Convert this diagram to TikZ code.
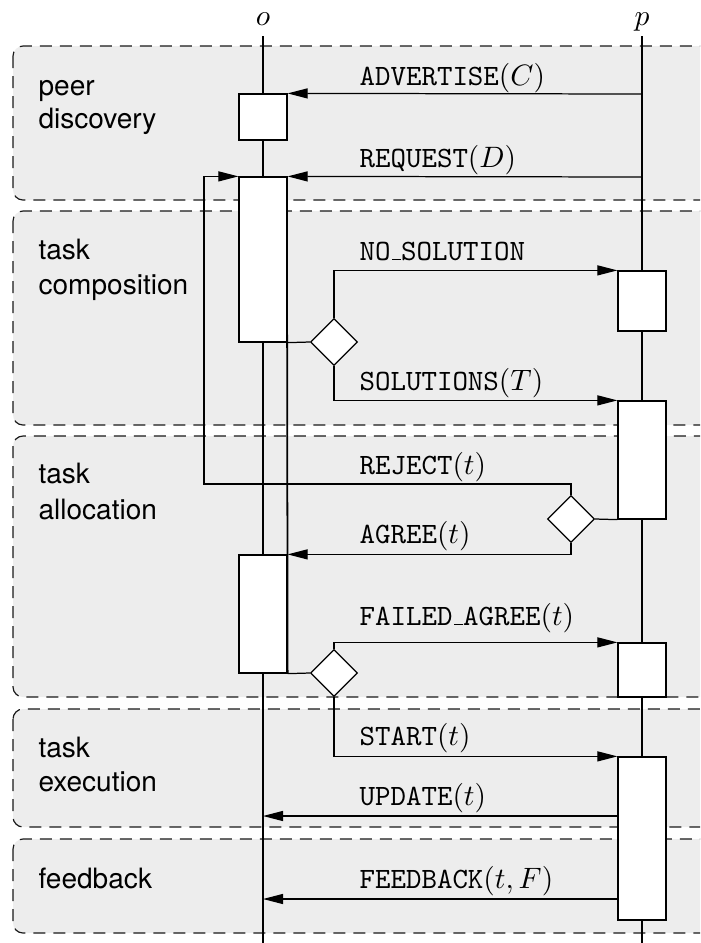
\documentclass[tikz,border=0pt]{standalone}
\usepackage{fontspec}
\newfontfamily\labfont{TeX Gyre Heros}
\usetikzlibrary{arrows.meta,shapes.geometric,fit}
\definecolor{bandgray}{gray}{0.93}
\newcommand\usc{\kern.06em\vbox{\hrule width .3em}}
\begin{document}
\begin{tikzpicture}[x=0.339pt,y=-0.339pt,
  band/.style={draw=black!90, fill=bandgray, dash pattern=on 4.07pt off 2.71pt, line width=0.4pt, rounded corners=3.4pt},
  life/.style={line width=0.42pt},
  actbox/.style={draw, fill=white, line width=0.42pt, inner sep=0pt},
  dec/.style={diamond, draw, fill=white, inner sep=0pt, minimum width=15.9pt, minimum height=15.9pt, line width=0.42pt},
  msg/.style={line width=0.42pt, -{Triangle[length=6.8pt,width=3.4pt]}},
  lbl/.style={inner sep=0pt, anchor=base west, font=\ttfamily},
  grp/.style={inner sep=0pt, anchor=base west, font=\labfont\fontsize{9.5}{11.5}\selectfont},
  head/.style={inner sep=0pt, anchor=base}]
\useasboundingbox (0,0) rectangle (700,943);
\clip (0,0) rectangle (700,943);
% bands
\draw[band] (13,46) rectangle (730,200);
\draw[band] (13,211) rectangle (730,425);
\draw[band] (13,436) rectangle (730,697);
\draw[band] (13,709) rectangle (730,827);
\draw[band] (13,839) rectangle (730,933);
% group labels
\node[grp] (g1a) at (38,95) {peer};
\node[grp] (g1b) at (38,128) {discovery};
\node[grp] (g2a) at (38,259) {task};
\node[grp] (g2b) at (38,294) {composition};
\node[grp] (g3a) at (38,483) {task};
\node[grp] (g3b) at (38,519) {allocation};
\node[grp] (g4a) at (38,757) {task};
\node[grp] (g4b) at (38,791) {execution};
\node[grp] (g5a) at (38,888) {feedback};
% lifelines
\node[head] (ho) at (263,25) {$o$};
\node[head] (hp) at (642,25) {$p$};
\coordinate (ot) at (263,36);
\coordinate (ob) at (263,950);
\coordinate (pt) at (642,36);
\coordinate (pb) at (642,950);
\draw[life] (ot) -- (ob);
\draw[life] (pt) -- (pb);
% activation boxes
\node[actbox, fit={(239,94) (287,140)}] (oA) {};
\node[actbox, fit={(239,177) (287,342)}] (oB) {};
\node[actbox, fit={(239,555) (287,673)}] (oC) {};
\node[actbox, fit={(618,271) (666,331)}] (pA) {};
\node[actbox, fit={(618,401) (666,519)}] (pB) {};
\node[actbox, fit={(618,643) (666,697)}] (pC) {};
\node[actbox, fit={(618,757) (666,920)}] (pD) {};
% decisions
\node[dec] (d1) at (334,342) {};
\node[dec] (d2) at (571,519) {};
\node[dec] (d3) at (334,673) {};
% helper coordinates
\coordinate (adv) at (642,94);
\coordinate (req) at (642,177);
\coordinate (lp) at (204,484);
\coordinate (th) at (287,258);
\coordinate (upd) at (618,816);
\coordinate (updo) at (263,816);
\coordinate (fb) at (618,899);
\coordinate (fbo) at (263,899);
% connectors
\draw[msg] (adv) -- (oA.north east);
\draw[msg] (req) -- (oB.north east);
\draw[msg] (d2.north) |- (lp) |- (oB.north west);
\draw[life, line width=0.6pt] (th) -- (oC.south east);
\draw[life] (oB.south east) -- (d1.west);
\draw[msg] (d1.north) |- (pA.north west);
\draw[msg] (d1.south) |- (pB.north west);
\draw[life] (pB.south west) -- (d2.east);
\draw[msg] (d2.south) |- (oC.north east);
\draw[life] (oC.south east) -- (d3.west);
\draw[msg] (d3.north) |- (pC.north west);
\draw[msg] (d3.south) |- (pD.north west);
\draw[msg] (upd) -- (updo);
\draw[msg] (fb) -- (fbo);
% message labels
\node[lbl] (l1) at (359,85) {ADVERTISE$(C)$};
\node[lbl] (l2) at (359,167) {REQUEST$(D)$};
\node[lbl] (l3) at (359,260) {NO\usc SOLUTION};
\node[lbl] (l4) at (359,390) {SOLUTIONS$(T)$};
\node[lbl] (l5) at (359,474) {REJECT$(t)$};
\node[lbl] (l6) at (359,543) {AGREE$(t)$};
\node[lbl] (l7) at (359,625) {FAILED\usc AGREE$(t)$};
\node[lbl] (l8) at (359,745) {START$(t)$};
\node[lbl] (l9) at (359,805) {UPDATE$(t)$};
\node[lbl] (l10) at (359,888) {FEEDBACK$(t,F)$};
\end{tikzpicture}
\end{document}
